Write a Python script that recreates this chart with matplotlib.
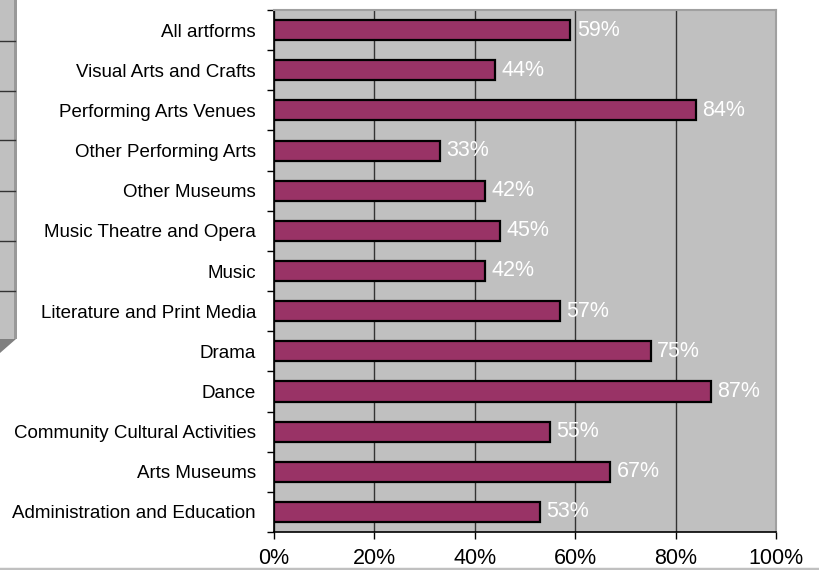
import matplotlib
matplotlib.use("Agg")
import matplotlib.pyplot as plt
from matplotlib.patches import Polygon, Rectangle
from matplotlib.lines import Line2D
from matplotlib.ticker import FixedLocator, PercentFormatter

plt.rcParams['font.family'] = ['Liberation Sans', 'DejaVu Sans']

categories = ["All artforms", "Visual Arts and Crafts", "Performing Arts Venues",
              "Other Performing Arts", "Other Museums", "Music Theatre and Opera",
              "Music", "Literature and Print Media", "Drama", "Dance",
              "Community Cultural Activities", "Arts Museums",
              "Administration and Education"]
values = [59, 44, 84, 33, 42, 45, 42, 57, 75, 87, 55, 67, 53]
x_ticks = [0, 20, 40, 60, 80, 100]

W, H = 819, 570
fig = plt.figure(figsize=(W / 100, H / 100), dpi=100)

def fx(px):
    return px / W

def fy(py):
    return 1 - py / H

# decorative left wall (3D remnant)
fig.patches.append(Rectangle((0, fy(339)), fx(15), fy(0) - fy(339),
                             transform=fig.transFigure, facecolor="#c0c0c0",
                             edgecolor="none", zorder=0))
fig.patches.append(Rectangle((fx(14), fy(339)), fx(2.5), fy(0) - fy(339),
                             transform=fig.transFigure, facecolor="#999999",
                             edgecolor="none", zorder=1))
for yy in [41, 91, 140, 191, 241, 291]:
    fig.lines.append(Line2D([0, fx(15)], [fy(yy), fy(yy)], transform=fig.transFigure,
                            color="#333333", lw=1.0))
fig.patches.append(Polygon([(0, fy(339)), (fx(16), fy(339)), (0, fy(353))],
                           closed=True, transform=fig.transFigure,
                           facecolor="#808080", edgecolor="none"))

left, right, top, bottom = 274, 776, 10, 532
ax = fig.add_axes([fx(left), fy(bottom), fx(right - left), fy(top) - fy(bottom)])
ax.set_facecolor("#c0c0c0")

n = len(categories)
ypos = list(range(n))
ax.barh(ypos, values, height=0.5, color="#993366", edgecolor="black",
        linewidth=1.6, zorder=3)
for y, v in zip(ypos, values):
    ax.text(v + 1.3, y, f"{v}%", color="white", va="center", ha="left",
            fontsize=15.5, zorder=4)

ax.set_xlim(0, 100)
ax.set_ylim(n - 0.5, -0.5)
ax.set_xticks(x_ticks)
ax.xaxis.set_major_formatter(PercentFormatter(decimals=0))
ax.set_yticks(ypos)
ax.set_yticklabels(categories)
ax.yaxis.set_minor_locator(FixedLocator([i - 0.5 for i in range(n + 1)]))
ax.tick_params(axis="y", which="major", length=0, pad=13, labelsize=13.5)
ax.tick_params(axis="y", which="minor", length=5, width=1, color="black", direction="out")
ax.tick_params(axis="x", length=5, width=1, direction="out", pad=6.5, labelsize=15.5)

ax.grid(axis="x", color="#333333", lw=1.0, zorder=1)
ax.set_axisbelow(True)
for s in ["top", "right"]:
    ax.spines[s].set_color("#a0a0a0")
    ax.spines[s].set_linewidth(1.5)
for s in ["left", "bottom"]:
    ax.spines[s].set_color("black")
    ax.spines[s].set_linewidth(1.2)

# bottom gray line
fig.lines.append(Line2D([0, 1], [fy(568.8), fy(568.8)], transform=fig.transFigure,
                        color="#c0c0c0", lw=2.5, zorder=10))

fig.savefig("out.png", dpi=100)
